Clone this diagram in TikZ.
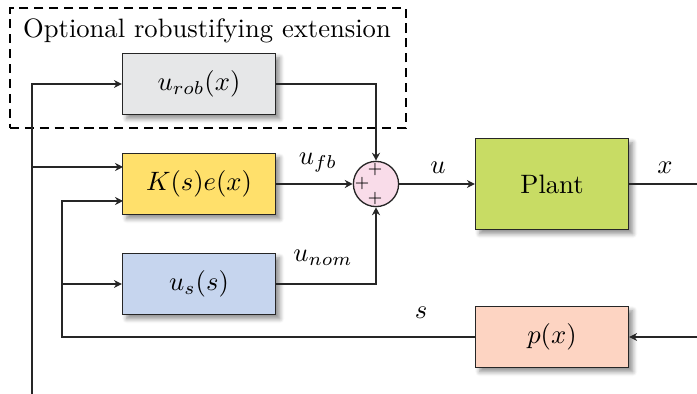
\documentclass[tikz,border=0pt]{standalone}
\usetikzlibrary{arrows.meta,calc,shadows.blur}
\definecolor{robgray}{HTML}{E6E7E8}
\definecolor{kyellow}{HTML}{FFE06B}
\definecolor{usblue}{HTML}{C6D5EE}
\definecolor{plantgreen}{HTML}{C8DC64}
\definecolor{psalmon}{HTML}{FDD4C2}
\definecolor{sumpink}{HTML}{F9DCE9}
\tikzset{
  blk/.style={draw=black!85, line width=0.5pt, minimum width=57.5pt, minimum height=22.9pt,
    inner sep=0pt, font=\normalsize,
    blur shadow={shadow xshift=1.6pt, shadow yshift=-1.6pt, shadow blur steps=6, shadow opacity=45}},
  sumnode/.style={circle, draw=black!85, line width=0.5pt, fill=sumpink, minimum size=17pt, inner sep=0pt},
  conn/.style={draw=black!85, line width=0.45pt},
  arr/.style={conn, -{Stealth[length=3pt,width=3pt]}},
  lbl/.style={inner sep=0pt},
  plus/.style={inner sep=0pt, font=\fontsize{6.5}{7}\selectfont},
}
\begin{document}
\begin{tikzpicture}[x=0.376pt, y=-0.376pt]
\useasboundingbox (0,0) rectangle (697,394);
% dashed region
\node[draw, thick, dash pattern=on 3.4pt off 2.2pt, minimum width=396*0.376pt, minimum height=120*0.376pt, inner sep=0pt] (opt) at (208,68) {};
\node[lbl] (title) at (207,31) {Optional robustifying extension};
% blocks
\node[blk, fill=robgray] (urob) at (199,84) {$u_{rob}(x)$};
\node[blk, fill=kyellow] (K) at (199,184) {$K(s)e(x)$};
\node[blk, fill=usblue] (us) at (199,284) {$u_s(s)$};
\node[blk, fill=plantgreen, minimum height=34.2pt] (plant) at (552,184) {Plant};
\node[blk, fill=psalmon] (p) at (552,337) {$p(x)$};
\node[sumnode] (sum) at (376,184) {};
\node[plus] (pt) at (375,170) {$+$};
\node[plus] (pl) at (362,184) {$+$};
\node[plus] (pb) at (375,199) {$+$};
% coordinates
\coordinate (L0) at (32,394);
\coordinate (Kin1) at (123,167);
\coordinate (Kin2) at (123,201);
\coordinate (I0) at (62,201);
\coordinate (Iu) at (62,284);
\coordinate (Xend) at (697,184);
\coordinate (Pend) at (697,337);
% left bus
\draw[arr] (L0) |- (urob.west);
\draw[arr] (L0 |- Kin1) -- (Kin1);
\draw[arr] (p.west) -| (I0) -- (Kin2);
\draw[arr] (Iu) -- (us.west);
% into sum
\draw[arr] (urob.east) -| (sum.north);
\draw[arr] (K.east) -- (sum.west);
\draw[arr] (us.east) -| (sum.south);
\draw[arr] (sum.east) -- (plant.west);
\draw[conn] (plant.east) -- (Xend);
\draw[arr] (Pend) -- (p.east);
% labels
\node[lbl] (lufb) at (318,163) {$u_{fb}$};
\node[lbl] (lu) at (438,168) {$u$};
\node[lbl] (lx) at (665,168) {$x$};
\node[lbl] (lunom) at (323,258) {$u_{nom}$};
\node[lbl] (ls) at (421,313) {$s$};
\end{tikzpicture}
\end{document}
